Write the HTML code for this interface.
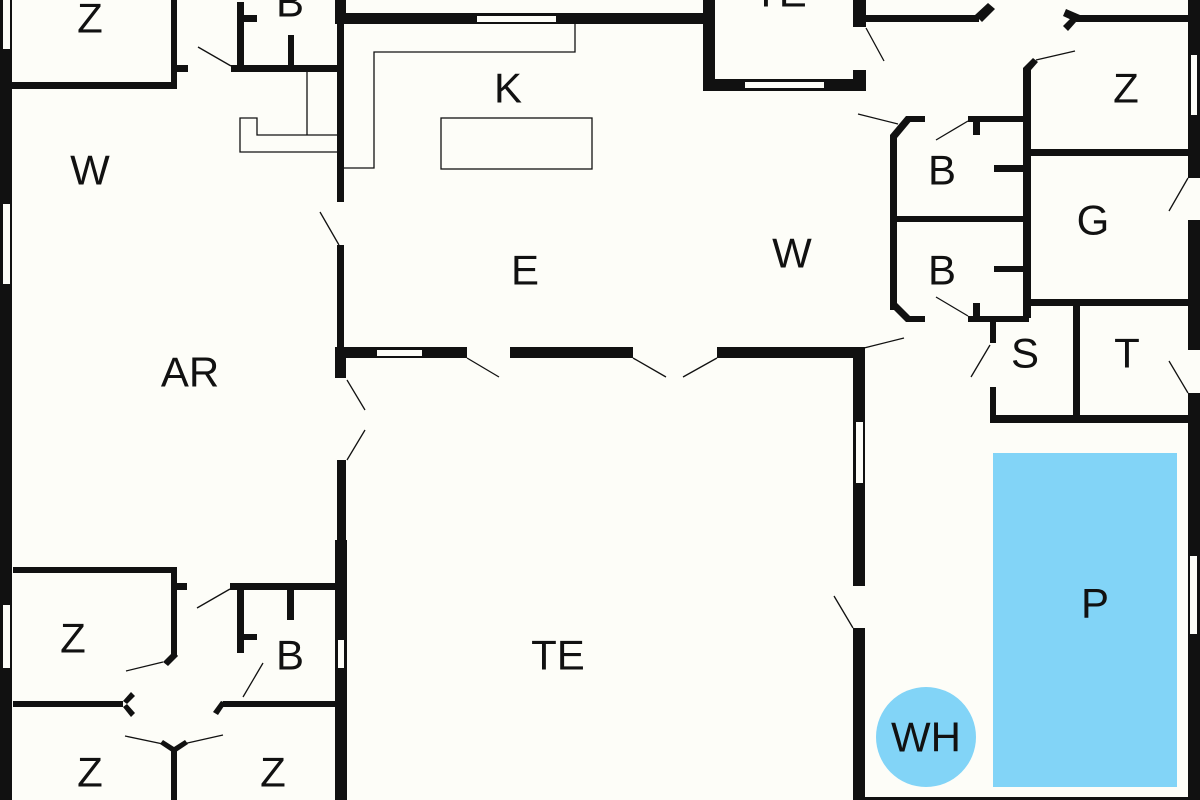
<!DOCTYPE html>
<html><head><meta charset="utf-8"><style>
html,body{margin:0;padding:0;background:#fdfdf8;}
svg{display:block}
text{font-family:"Liberation Sans",sans-serif;font-size:42px;fill:#111;text-anchor:middle;dominant-baseline:central}
</style></head><body>
<svg width="1200" height="800" viewBox="0 0 1200 800" xmlns="http://www.w3.org/2000/svg">
<rect width="1200" height="800" fill="#fdfdf8"/>
<g fill="#111">
<rect x="0" y="0" width="12" height="800"/>
<rect x="12" y="82" width="165" height="7"/>
<rect x="171" y="0" width="6" height="89"/>
<rect x="177" y="65" width="11" height="7"/>
<rect x="237" y="2" width="7" height="70"/>
<rect x="244" y="15" width="13" height="7"/>
<rect x="231" y="65" width="108" height="7"/>
<rect x="288" y="35" width="6" height="30"/>
<rect x="335" y="0" width="11" height="24"/>
<rect x="335" y="13" width="375" height="11"/>
<rect x="337" y="23" width="7" height="179"/>
<rect x="337" y="245" width="7" height="102"/>
<rect x="335" y="347" width="11" height="31"/>
<rect x="335" y="347" width="132" height="11"/>
<rect x="510" y="347" width="123" height="11"/>
<rect x="717" y="347" width="147" height="11"/>
<rect x="337" y="460" width="9" height="340"/>
<rect x="703" y="0" width="12" height="91"/>
<rect x="703" y="79" width="163" height="12"/>
<rect x="853" y="0" width="13" height="27"/>
<rect x="853" y="70" width="13" height="21"/>
<rect x="866" y="15" width="113" height="7"/>
<polygon points="975,15 988,3 995,9 982,22"/>
<polygon points="1066,9 1080,15 1076,22 1063,16"/>
<rect x="1076" y="15" width="113" height="7"/>
<polygon points="1063,26 1071,18 1076,22 1068,31"/>
<rect x="1188" y="0" width="12" height="178"/>
<rect x="1188" y="220" width="12" height="130"/>
<rect x="1188" y="393" width="12" height="407"/>
<polygon points="1023,68 1033,58 1038,62 1031,70"/>
<rect x="1023" y="68" width="8" height="250"/>
<rect x="1031" y="149" width="158" height="7"/>
<rect x="1023" y="299" width="166" height="7"/>
<rect x="890" y="135" width="7" height="175"/>
<polygon points="890,135 906,116 912,120 897,138"/>
<rect x="906" y="116" width="19" height="6"/>
<rect x="968" y="116" width="57" height="6"/>
<rect x="973" y="122" width="7" height="13"/>
<rect x="994" y="165" width="29" height="7"/>
<rect x="897" y="216" width="126" height="6"/>
<rect x="994" y="266" width="29" height="6"/>
<polygon points="890,306 897,303 912,318 906,322"/>
<rect x="906" y="316" width="19" height="6"/>
<rect x="968" y="316" width="61" height="6"/>
<rect x="973" y="303" width="7" height="13"/>
<rect x="990" y="322" width="6" height="21"/>
<rect x="990" y="387" width="6" height="36"/>
<rect x="1073" y="306" width="7" height="111"/>
<rect x="990" y="415" width="199" height="8"/>
<rect x="853" y="347" width="12" height="239"/>
<rect x="853" y="628" width="12" height="172"/>
<rect x="865" y="797" width="323" height="3"/>
<rect x="13" y="567" width="164" height="6"/>
<rect x="171" y="567" width="6" height="88"/>
<rect x="177" y="583" width="10" height="7"/>
<polygon points="163,662 174,651 178,656 168,666"/>
<rect x="230" y="583" width="107" height="7"/>
<rect x="237" y="590" width="7" height="63"/>
<rect x="244" y="634" width="13" height="6"/>
<rect x="287" y="590" width="7" height="30"/>
<rect x="13" y="701" width="110" height="6"/>
<polygon points="123,701 131,692 135,696 127,704"/>
<polygon points="123,707 127,704 135,713 131,717"/>
<polygon points="213,712 221,701 226,703 218,715"/>
<rect x="223" y="701" width="112" height="6"/>
<rect x="171" y="747" width="6" height="53"/>
<polygon points="163,740 174,747 172,752 160,744"/>
<polygon points="185,740 188,744 176,752 174,747"/>
<rect x="335" y="540" width="12" height="260"/>
</g>
<g fill="#fdfdf8">
<rect x="3" y="0" width="7" height="49"/>
<rect x="3" y="204" width="7" height="80"/>
<rect x="3" y="605" width="7" height="63"/>
<rect x="477" y="16" width="79" height="6"/>
<rect x="377" y="350" width="45" height="6"/>
<rect x="745" y="82" width="79" height="6"/>
<rect x="1191" y="55" width="6" height="60"/>
<rect x="856" y="422" width="7" height="61"/>
<rect x="1190" y="556" width="7" height="78"/>
<rect x="338" y="640" width="6" height="28"/>
</g>
<g fill="none" stroke="#111" stroke-width="1.3">
<polyline points="344,168 374,168 374,52 575,52 575,24"/>
<line x1="307" y1="72" x2="307" y2="135"/>
<polyline points="337,135 257,135 257,118 240,118 240,152 337,152"/>
<rect x="441" y="118" width="151" height="51"/>
<line x1="198" y1="47" x2="231" y2="66"/>
<line x1="320" y1="212" x2="339" y2="245"/>
<line x1="467" y1="358" x2="499" y2="377"/>
<line x1="347" y1="380" x2="365" y2="410"/>
<line x1="365" y1="430" x2="347" y2="460"/>
<line x1="633" y1="358" x2="666" y2="377"/>
<line x1="683" y1="377" x2="717" y2="358"/>
<line x1="866" y1="28" x2="884" y2="61"/>
<line x1="1036" y1="60" x2="1075" y2="51"/>
<line x1="858" y1="114" x2="898" y2="124"/>
<line x1="936" y1="140" x2="968" y2="121"/>
<line x1="936" y1="297" x2="968" y2="316"/>
<line x1="864" y1="348" x2="904" y2="338"/>
<line x1="990" y1="345" x2="971" y2="377"/>
<line x1="1188" y1="178" x2="1169" y2="211"/>
<line x1="1169" y1="361" x2="1188" y2="393"/>
<line x1="834" y1="596" x2="853" y2="628"/>
<line x1="230" y1="589" x2="197" y2="608"/>
<line x1="263" y1="663" x2="243" y2="697"/>
<line x1="126" y1="671" x2="163" y2="662"/>
<line x1="125" y1="736" x2="163" y2="744"/>
<line x1="223" y1="735" x2="183" y2="744"/>
</g>
<rect x="993" y="453" width="184" height="334" fill="#82d4f7"/>
<circle cx="926" cy="737" r="50" fill="#82d4f7"/>
<text x="90" y="18">Z</text>
<text x="290" y="2">B</text>
<text x="780" y="-8">TE</text>
<text x="508" y="88">K</text>
<text x="90" y="170">W</text>
<text x="525" y="270">E</text>
<text x="190" y="372">AR</text>
<text x="792" y="253">W</text>
<text x="942" y="170">B</text>
<text x="942" y="270">B</text>
<text x="1126" y="88">Z</text>
<text x="1093" y="220">G</text>
<text x="1025" y="353">S</text>
<text x="1127" y="353">T</text>
<text x="558" y="655">TE</text>
<text x="1095" y="603">P</text>
<text x="926" y="737">WH</text>
<text x="73" y="638">Z</text>
<text x="290" y="655">B</text>
<text x="90" y="772">Z</text>
<text x="273" y="772">Z</text>
</svg>
</body></html>
